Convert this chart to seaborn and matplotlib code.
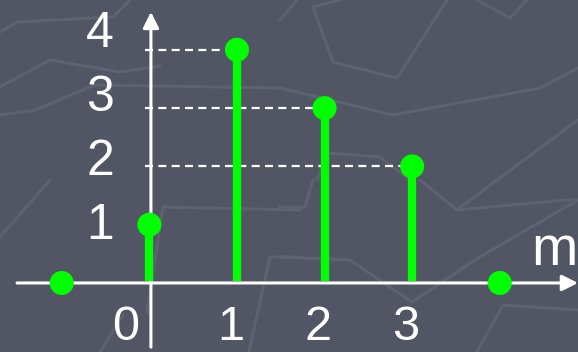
import matplotlib
matplotlib.use("Agg")
import matplotlib.pyplot as plt
import seaborn as sns
import pandas as pd

# sequence samples x[m]
m_values = [-1, 0, 1, 2, 3, 4]
x_values = [0, 1, 4, 3, 2, 0]
x_tick_labels = ["0", "1", "2", "3"]
y_tick_labels = ["1", "2", "3", "4"]
axis_label = "m"

BG = "#525564"
TEXTURE = "#5e6170"
GREEN = "#00ff00"
WHITE = "#ffffff"

sns.set_theme(style="white")
plt.rcParams["font.family"] = ["Liberation Sans", "DejaVu Sans"]

df = pd.DataFrame({"m": m_values, "x": x_values})

fig = plt.figure(figsize=(5.78, 3.52), dpi=100, facecolor=BG)

# faint polygonal texture behind the plot (pixel space)
bg = fig.add_axes([0, 0, 1, 1], zorder=0)
bg.set_xlim(0, 578)
bg.set_ylim(352, 0)
bg.axis("off")
bg.set_facecolor(BG)
texture = [
    [(0, 32), (17, 22), (113, 17), (130, 0)],
    [(0, 87), (50, 60), (120, 72), (160, 66)],
    [(280, 20), (297, 0)],
    [(340, 0), (313, 7), (333, 62), (397, 78), (447, 0)],
    [(477, 0), (510, 18), (527, 0)],
    [(0, 115), (35, 110), (95, 85), (280, 88), (393, 115), (540, 88), (578, 68)],
    [(578, 120), (497, 180), (457, 210)],
    [(317, 180), (327, 153), (380, 157), (410, 180)],
    [(0, 237), (50, 180)],
    [(147, 313), (163, 207), (300, 210)],
    [(247, 360), (270, 257), (300, 257)],
    [(280, 207), (305, 207), (313, 180)],
    [(280, 257), (350, 260), (412, 302), (478, 258), (578, 200)],
    [(420, 180), (457, 210), (567, 200), (578, 200)],
    [(477, 352), (503, 305), (578, 310)],
    [(100, 352), (123, 315)],
]
for seg in texture:
    xs, ys = zip(*seg)
    bg.plot(xs, ys, color=TEXTURE, lw=2.2, solid_capstyle="round")

ax = fig.add_axes([0, 0, 1, 1], zorder=1)
ax.patch.set_alpha(0)

XLIM = (-1.705, 4.893)
YLIM = (-1.184, 4.854)
axis_x = 0.018

# dashed guide lines to each nonzero sample height
for m, v in zip(m_values, x_values):
    if v > 1:
        ax.plot([-0.05, m], [v, v], color=WHITE, lw=1.6,
                dashes=(3.6, 2.4), zorder=2)

# coordinate axes with arrowheads
ax.annotate("", xy=(XLIM[1], 0), xytext=(-1.51, 0),
            arrowprops=dict(arrowstyle="-|>", color=WHITE, lw=2.2,
                            mutation_scale=24, shrinkA=0, shrinkB=0),
            zorder=3)
ax.annotate("", xy=(axis_x, 4.65), xytext=(axis_x, -1.10),
            arrowprops=dict(arrowstyle="-|>", color=WHITE, lw=2.2,
                            mutation_scale=24, shrinkA=0, shrinkB=0),
            zorder=3)

# stems and sample markers
ax.vlines(df["m"], 0.03, df["x"], color=GREEN, lw=6.0, zorder=4)
sns.scatterplot(data=df, x="m", y="x", ax=ax, color=GREEN, s=300,
                edgecolor="none", zorder=5, legend=False)
ax.axis("off")
ax.set_xlim(*XLIM)
ax.set_ylim(*YLIM)

# tick labels
fs = 35
x_base = -0.98
for i, lab in enumerate(x_tick_labels):
    if i == 0:
        ax.text(-0.12, x_base, lab, color=WHITE, fontsize=fs,
                ha="right", va="baseline", zorder=6)
    else:
        ax.text(i - 0.07, x_base, lab, color=WHITE, fontsize=fs,
                ha="center", va="baseline", zorder=6)
for i, lab in enumerate(y_tick_labels):
    v = i + 1
    ax.text(-0.56, v * 1.1 - 0.35, lab, color=WHITE, fontsize=fs + 1,
            ha="center", va="baseline", zorder=6)

ax.text(4.62, 0.31, axis_label, color=WHITE, fontsize=40,
        ha="center", va="baseline", zorder=6)

fig.savefig("out.png", dpi=100, facecolor=BG)
